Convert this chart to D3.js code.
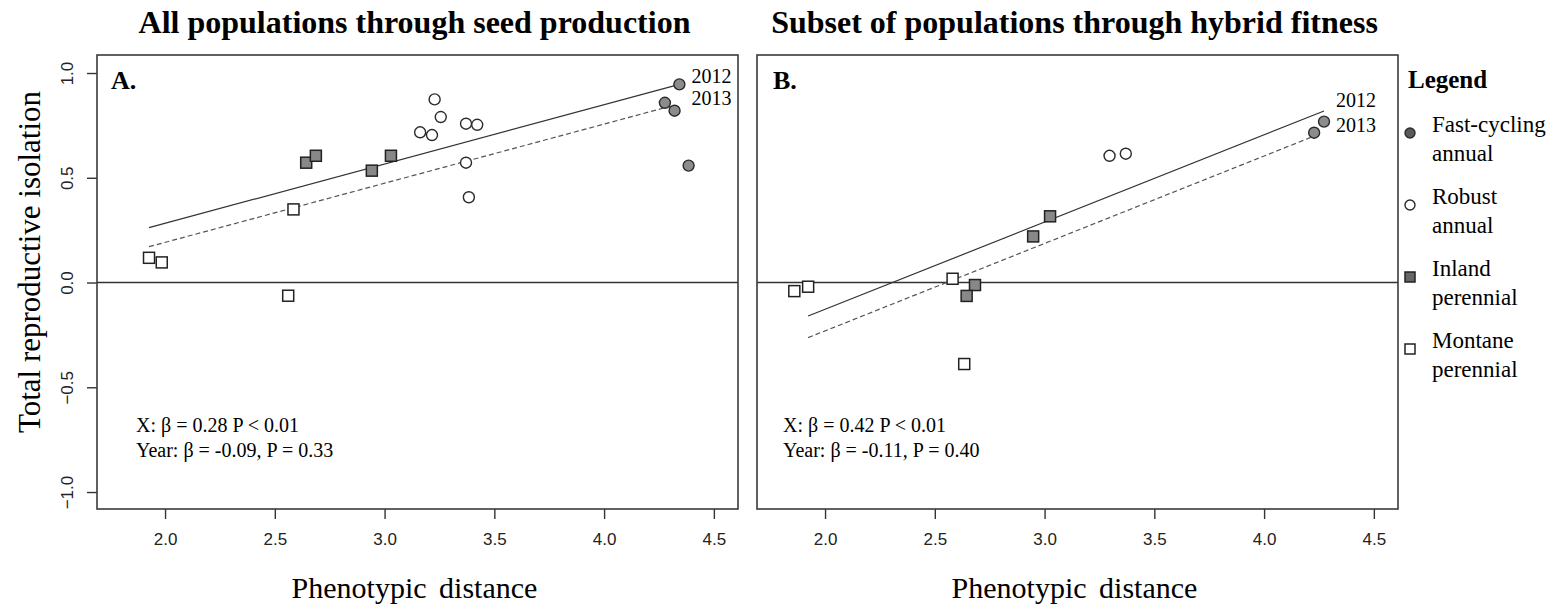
<!DOCTYPE html>
<html>
<head>
<meta charset="utf-8">
<script src="https://cdn.jsdelivr.net/npm/d3@7"></script>
<style>
  html, body { margin: 0; padding: 0; background: #fff; }
  svg { display: block; }
  .serif { font-family: "Liberation Serif", "Times New Roman", serif; fill: #000; }
  .tick text { font-family: "Liberation Sans", Arial, sans-serif; font-size: 17px; fill: #222; }
</style>
</head>
<body>
<svg id="chart" width="1556" height="608"></svg>
<script>
// ---- Data -------------------------------------------------------------
const groups = ["Fast-cycling annual", "Robust annual", "Inland perennial", "Montane perennial"];
const legendLines = [["Fast-cycling", "annual"], ["Robust", "annual"], ["Inland", "perennial"], ["Montane", "perennial"]];

const xTicks = [2.0, 2.5, 3.0, 3.5, 4.0, 4.5];
const yTicks = [-1.0, -0.5, 0.0, 0.5, 1.0];

// Panel A: all populations through seed production
const seedFastCycling = [{x: 4.343, y: 0.946}, {x: 4.277, y: 0.858}, {x: 4.321, y: 0.820}, {x: 4.385, y: 0.558}];
const seedRobust = [{x: 3.228, y: 0.874}, {x: 3.256, y: 0.790}, {x: 3.162, y: 0.717}, {x: 3.216, y: 0.704},
                    {x: 3.371, y: 0.758}, {x: 3.422, y: 0.753}, {x: 3.371, y: 0.572}, {x: 3.384, y: 0.407}];
const seedInland = [{x: 2.643, y: 0.572}, {x: 2.687, y: 0.605}, {x: 2.942, y: 0.534}, {x: 3.029, y: 0.605}];
const seedMontane = [{x: 2.585, y: 0.349}, {x: 1.927, y: 0.118}, {x: 1.985, y: 0.096}, {x: 2.561, y: -0.063}];
const seedFit2012 = [{x: 1.927, y: 0.262}, {x: 4.343, y: 0.946}];
const seedFit2013 = [{x: 1.927, y: 0.171}, {x: 4.300, y: 0.841}];
const seedStats = ["X: \u03B2 = 0.28 P < 0.01", "Year: \u03B2 = -0.09, P = 0.33"];

// Panel B: subset of populations through hybrid fitness
const hybridFastCycling = [{x: 4.273, y: 0.768}, {x: 4.228, y: 0.715}];
const hybridRobust = [{x: 3.296, y: 0.605}, {x: 3.370, y: 0.615}];
const hybridInland = [{x: 3.025, y: 0.316}, {x: 2.948, y: 0.220}, {x: 2.683, y: -0.012}, {x: 2.645, y: -0.064}];
const hybridMontane = [{x: 2.581, y: 0.018}, {x: 1.860, y: -0.041}, {x: 1.923, y: -0.020}, {x: 2.634, y: -0.389}];
const hybridFit2012 = [{x: 1.923, y: -0.160}, {x: 4.273, y: 0.819}];
const hybridFit2013 = [{x: 1.923, y: -0.263}, {x: 4.228, y: 0.699}];
const hybridStats = ["X: \u03B2 = 0.42 P < 0.01", "Year: \u03B2 = -0.11, P = 0.40"];

const years = ["2012", "2013"];

// ---- Styles per group ---------------------------------------------------
const groupStyle = {
  "Fast-cycling annual": {shape: "circle", fill: "#8c8c8c", legendFill: "#5a5a5a"},
  "Robust annual":       {shape: "circle", fill: "#ffffff", legendFill: "#ffffff"},
  "Inland perennial":    {shape: "square", fill: "#888888", legendFill: "#666666"},
  "Montane perennial":   {shape: "square", fill: "#ffffff", legendFill: "#ffffff"}
};

// ---- Layout ----------------------------------------------------------------
const svg = d3.select("#chart");
const W = 641, H = 454;
const x = d3.scaleLinear().domain([1.69, 4.61]).range([0, W]);
const y = d3.scaleLinear().domain([-1.081, 1.086]).range([H, 0]);

function drawMarker(sel, style, size, fill) {
  if (style.shape === "circle") {
    sel.append("circle").attr("r", size / 2)
      .attr("fill", fill).attr("stroke", "#2a2a2a").attr("stroke-width", 1.4);
  } else {
    sel.append("rect").attr("x", -size / 2).attr("y", -size / 2)
      .attr("width", size).attr("height", size)
      .attr("fill", fill).attr("stroke", "#222").attr("stroke-width", 1.5);
  }
}

function panel(cfg) {
  const g = svg.append("g").attr("transform", `translate(${cfg.left},55)`);

  // title
  svg.append("text").attr("class", "serif")
    .attr("x", cfg.left + W / 2 - 3).attr("y", 33)
    .attr("text-anchor", "middle").attr("font-size", 32).attr("font-weight", "bold")
    .text(cfg.title);

  // x axis
  const xa = g.append("g").attr("transform", `translate(0,${H})`)
    .call(d3.axisBottom(x).tickValues(xTicks).tickFormat(d3.format(".1f")).tickSize(10).tickPadding(14));
  xa.select(".domain").remove();
  xa.selectAll(".tick line").attr("stroke", "#333").attr("stroke-width", 1.4);

  if (cfg.yAxis) {
    const ya = g.append("g")
      .call(d3.axisLeft(y).tickValues(yTicks).tickFormat(d3.format(".1f")).tickSize(10));
    ya.select(".domain").remove();
    ya.selectAll(".tick line").attr("stroke", "#333").attr("stroke-width", 1.4);
    ya.selectAll(".tick text")
      .attr("transform", "rotate(-90)")
      .attr("x", 0).attr("y", -24).attr("dy", 0)
      .attr("text-anchor", "middle");
  }

  // zero reference line
  g.append("line").attr("x1", 0).attr("x2", W).attr("y1", y(0)).attr("y2", y(0))
    .attr("stroke", "#333").attr("stroke-width", 1.5);

  // fitted lines per year
  const line = d3.line().x(d => x(d.x)).y(d => y(d.y));
  g.append("path").datum(cfg.fit2012).attr("d", line)
    .attr("fill", "none").attr("stroke", "#333").attr("stroke-width", 1.2);
  g.append("path").datum(cfg.fit2013).attr("d", line)
    .attr("fill", "none").attr("stroke", "#555").attr("stroke-width", 1.2)
    .attr("stroke-dasharray", "5,3");

  // year labels at the line ends
  const labelX = x(cfg.fit2012[1].x) + 12;
  [cfg.fit2012, cfg.fit2013].forEach((fit, i) => {
    g.append("text").attr("class", "serif").attr("font-size", 20)
      .attr("x", labelX).attr("y", y(fit[1].y) + cfg.yearShift)
      .text(years[i]);
  });

  // points
  cfg.series.forEach((pts, gi) => {
    const style = groupStyle[groups[gi]];
    g.append("g").selectAll("g").data(pts).join("g")
      .attr("transform", d => `translate(${x(d.x)},${y(d.y)})`)
      .each(function () { drawMarker(d3.select(this), style, 11, style.fill); });
  });

  // panel letter
  g.append("text").attr("class", "serif").attr("font-size", 26).attr("font-weight", "bold")
    .attr("x", cfg.letterX).attr("y", 34).text(cfg.letter);

  // statistics
  cfg.stats.forEach((s, i) => {
    g.append("text").attr("class", "serif").attr("font-size", 20)
      .attr("x", cfg.statsX).attr("y", 377 + i * 25).text(s);
  });

  // frame
  g.append("rect").attr("width", W).attr("height", H)
    .attr("fill", "none").attr("stroke", "#3a3a3a").attr("stroke-width", 1.6);

  // x label
  svg.append("text").attr("class", "serif")
    .attr("x", cfg.left + W / 2 - 3).attr("y", 598)
    .attr("text-anchor", "middle").attr("font-size", 30).attr("word-spacing", 5)
    .text("Phenotypic distance");
}

panel({left: 97, title: "All populations through seed production", yAxis: true,
       series: [seedFastCycling, seedRobust, seedInland, seedMontane],
       fit2012: seedFit2012, fit2013: seedFit2013, yearShift: -1,
       letter: "A.", letterX: 14, stats: seedStats, statsX: 39});

panel({left: 757, title: "Subset of populations through hybrid fitness", yAxis: false,
       series: [hybridFastCycling, hybridRobust, hybridInland, hybridMontane],
       fit2012: hybridFit2012, fit2013: hybridFit2013, yearShift: -4,
       letter: "B.", letterX: 16, stats: hybridStats, statsX: 26});

// y axis title
svg.append("text").attr("class", "serif")
  .attr("transform", "translate(40,262) rotate(-90)")
  .attr("text-anchor", "middle").attr("font-size", 31)
  .text("Total reproductive isolation");

// legend
const lg = svg.append("g").attr("transform", "translate(1408,0)");
lg.append("text").attr("class", "serif").attr("font-size", 25).attr("font-weight", "bold")
  .attr("x", 0).attr("y", 88).text("Legend");
groups.forEach((name, i) => {
  const base = 132 + i * 72;
  const style = groupStyle[name];
  const m = lg.append("g").attr("transform", `translate(2,${base + 1})`);
  drawMarker(m, style, 10, style.legendFill);
  legendLines[i].forEach((t, j) => {
    lg.append("text").attr("class", "serif").attr("font-size", 23)
      .attr("x", 24).attr("y", base + j * 28.5).text(t);
  });
});
</script>
</body>
</html>
